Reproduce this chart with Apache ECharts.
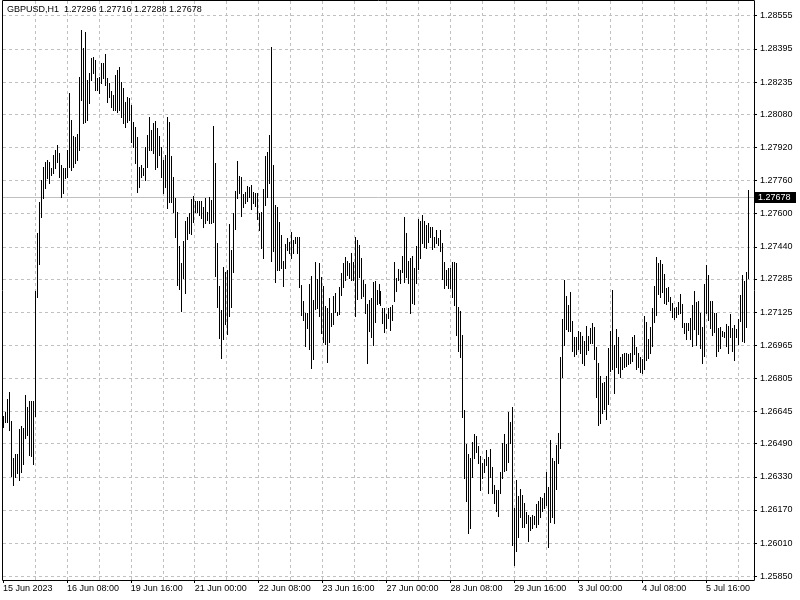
<!DOCTYPE html>
<html><head><meta charset="utf-8">
<script src="https://cdn.jsdelivr.net/npm/echarts@6/dist/echarts.min.js"></script>
<style>html,body{margin:0;padding:0;background:#fff}#c{width:800px;height:600px}</style>
</head><body><div id="c"></div>
<script>
const symbolName = 'GBPUSD,H1';
const lastBar = [1.27296, 1.27716, 1.27288, 1.27678]; // open, high, low, close

const highs = [
1.26624,1.26643,1.26706,1.26739,1.26599,1.26421,1.26440,1.26440,1.26561,1.26575,
1.26566,1.26725,1.26667,1.26696,1.26696,1.26696,1.27227,1.27507,1.27656,1.27762,
1.27825,1.27849,1.27859,1.27849,1.27820,1.27883,1.27907,1.27931,1.27893,1.27835,
1.27820,1.27820,1.27907,1.28182,1.28052,1.27975,1.27970,1.27984,1.28259,1.28486,
1.28399,1.28476,1.28245,1.28279,1.28351,1.28356,1.28341,1.28254,1.28259,1.28327,
1.28327,1.28370,1.28254,1.28230,1.28192,1.28172,1.28269,1.28293,1.28307,1.28235,
1.28206,1.28139,1.28163,1.28158,1.28124,1.28042,1.28018,1.27970,1.27825,1.27835,
1.27820,1.27921,1.27979,1.28066,1.28003,1.28037,1.28047,1.28013,1.27975,1.27921,
1.27859,1.27883,1.28066,1.28042,1.27878,1.27777,1.27675,1.27608,1.27444,1.27362,
1.27468,1.27564,1.27584,1.27603,1.27671,1.27685,1.27661,1.27661,1.27661,1.27661,
1.27632,1.27675,1.27608,1.27680,1.27666,1.28023,1.27844,1.27458,1.27251,1.27135,
1.27342,1.27318,1.27328,1.27550,1.27424,1.27603,1.27709,1.27854,1.27782,1.27777,
1.27695,1.27704,1.27733,1.27728,1.27738,1.27704,1.27700,1.27700,1.27603,1.27608,
1.27719,1.27878,1.27897,1.27979,1.28404,1.27835,1.27642,1.27632,1.27560,1.27497,
1.27371,1.27453,1.27482,1.27463,1.27511,1.27473,1.27487,1.27487,1.27487,1.27256,
1.27178,1.27121,1.27121,1.27260,1.27299,1.27183,1.27367,1.27285,1.27362,1.27294,
1.27251,1.27154,1.27145,1.27193,1.27121,1.27203,1.27217,1.27125,1.27246,1.27314,
1.27362,1.27391,1.27371,1.27362,1.27410,1.27367,1.27487,1.27473,1.27449,1.27386,
1.27280,1.27260,1.27164,1.27183,1.27193,1.27270,1.27275,1.27231,1.27260,1.27227,
1.27145,1.27145,1.27116,1.27145,1.27149,1.27159,1.27367,1.27289,1.27333,1.27328,
1.27396,1.27584,1.27507,1.27371,1.27386,1.27396,1.27338,1.27444,1.27574,1.27564,
1.27593,1.27564,1.27545,1.27555,1.27535,1.27535,1.27487,1.27521,1.27482,1.27521,
1.27458,1.27367,1.27328,1.27338,1.27338,1.27367,1.27367,1.27362,1.27149,1.27130,
1.27014,1.26652,1.26488,1.26440,1.26421,1.26498,1.26537,1.26527,1.26479,1.26431,
1.26397,1.26416,1.26459,1.26426,1.26464,1.26377,1.26291,1.26266,1.26266,1.26353,
1.26493,1.26537,1.26488,1.26643,1.26594,1.26667,1.26180,1.26315,1.26238,1.26271,
1.26242,1.26204,1.26160,1.26146,1.26136,1.26146,1.26141,1.26199,1.26213,1.26233,
1.26228,1.26252,1.26353,1.26281,1.26508,1.26421,1.26406,1.26484,1.26542,1.26908,
1.27092,1.27280,1.27203,1.27159,1.27222,1.27082,1.27005,1.27005,1.27034,1.27029,
1.27010,1.26985,1.27058,1.27010,1.27048,1.27072,1.27053,1.26956,1.26879,1.26817,
1.26783,1.26788,1.26817,1.26952,1.27034,1.27231,1.26966,1.27043,1.27005,1.26908,
1.26923,1.26928,1.26928,1.26923,1.26928,1.27005,1.27014,1.26956,1.26928,1.26908,
1.26899,1.27106,1.27077,1.26995,1.27053,1.27145,1.27251,1.27391,1.27362,1.27376,
1.27357,1.27309,1.27241,1.27246,1.27198,1.27169,1.27145,1.27149,1.27174,1.27212,
1.27164,1.27072,1.27072,1.27072,1.27096,1.27159,1.27227,1.27174,1.27178,1.27121,
1.27053,1.27260,1.27352,1.27304,1.27178,1.27178,1.27121,1.27121,1.27048,1.27053,
1.27034,1.27029,1.27067,1.27058,1.27116,1.27048,1.27063,1.27043,1.27092,1.27207,
1.27304,1.27275,1.27318,1.27716
];

const lows = [
1.26570,1.26595,1.26594,1.26556,1.26334,1.26291,1.26329,1.26349,1.26315,1.26353,
1.26392,1.26517,1.26532,1.26435,1.26431,1.26392,1.26624,1.27198,1.27357,1.27584,
1.27675,1.27724,1.27772,1.27748,1.27786,1.27796,1.27820,1.27849,1.27777,1.27680,
1.27700,1.27772,1.27777,1.27825,1.27810,1.27825,1.27844,1.27859,1.27907,1.28148,
1.28037,1.28042,1.28052,1.28134,1.28245,1.28279,1.28196,1.28196,1.28182,1.28230,
1.28254,1.28221,1.28139,1.28163,1.28114,1.28100,1.28100,1.28090,1.28100,1.28066,
1.28037,1.28018,1.28042,1.28052,1.27946,1.27921,1.27844,1.27704,1.27728,1.27777,
1.27786,1.27762,1.27825,1.27907,1.27907,1.27893,1.27815,1.27825,1.27883,1.27777,
1.27700,1.27728,1.27627,1.27656,1.27656,1.27608,1.27487,1.27256,1.27236,1.27130,
1.27289,1.27217,1.27478,1.27507,1.27502,1.27560,1.27608,1.27608,1.27593,1.27579,
1.27535,1.27555,1.27569,1.27555,1.27555,1.27560,1.27299,1.27149,1.27000,1.26903,
1.26995,1.27067,1.27019,1.27106,1.27149,1.27318,1.27526,1.27675,1.27700,1.27589,
1.27632,1.27651,1.27661,1.27680,1.27622,1.27651,1.27637,1.27574,1.27521,1.27434,
1.27386,1.27642,1.27680,1.27748,1.27371,1.27420,1.27270,1.27328,1.27328,1.27338,
1.27251,1.27338,1.27424,1.27410,1.27386,1.27410,1.27458,1.27410,1.27246,1.27111,
1.27087,1.26961,1.27048,1.26947,1.26855,1.26899,1.27140,1.27145,1.27106,1.27024,
1.26981,1.26971,1.26884,1.26981,1.27058,1.27067,1.27125,1.27111,1.27116,1.27207,
1.27246,1.27280,1.27304,1.27289,1.27280,1.27280,1.27106,1.27188,1.27294,1.27193,
1.27203,1.27121,1.26879,1.27034,1.27005,1.26966,1.27077,1.27164,1.27169,1.27159,
1.27072,1.27029,1.27048,1.27096,1.27038,1.27087,1.27178,1.27227,1.27280,1.27265,
1.27318,1.27270,1.27294,1.27265,1.27121,1.27169,1.27164,1.27265,1.27333,1.27386,
1.27458,1.27439,1.27434,1.27463,1.27487,1.27429,1.27439,1.27458,1.27449,1.27420,
1.27285,1.27241,1.27256,1.27241,1.27241,1.27198,1.27159,1.27014,1.26937,1.26908,
1.26619,1.26324,1.26213,1.26059,1.26083,1.26329,1.26421,1.26450,1.26397,1.26266,
1.26324,1.26353,1.26387,1.26252,1.26329,1.26252,1.26204,1.26165,1.26141,1.26252,
1.26324,1.26358,1.26363,1.26402,1.26493,1.26001,1.25905,1.25972,1.26040,1.26136,
1.26088,1.26088,1.26107,1.26020,1.26073,1.26083,1.26102,1.26088,1.26102,1.26136,
1.26165,1.26180,1.26194,1.25991,1.26112,1.26136,1.26107,1.26271,1.26397,1.26469,
1.26812,1.26966,1.27043,1.27034,1.27034,1.26937,1.26913,1.26923,1.26947,1.26928,
1.26879,1.26870,1.26923,1.26942,1.26976,1.26976,1.26899,1.26715,1.26580,1.26590,
1.26638,1.26657,1.26609,1.26681,1.26841,1.26850,1.26735,1.26860,1.26831,1.26812,
1.26850,1.26860,1.26865,1.26874,1.26879,1.26889,1.26923,1.26850,1.26860,1.26836,
1.26831,1.26850,1.26894,1.26903,1.26928,1.26961,1.27077,1.27111,1.27212,1.27198,
1.27222,1.27169,1.27164,1.27178,1.27135,1.27101,1.27092,1.27101,1.27116,1.27121,
1.27053,1.27024,1.26995,1.27038,1.26995,1.26961,1.27043,1.26966,1.27019,1.26952,
1.26879,1.26913,1.27121,1.27087,1.27048,1.27014,1.27029,1.26913,1.26937,1.26952,
1.27010,1.27005,1.26961,1.26928,1.27005,1.26937,1.26894,1.27005,1.26971,1.27082,
1.26985,1.26981,1.27053,1.27288
];

const yTickLabels = ['1.28555','1.28395','1.28235','1.28080','1.27920','1.27760','1.27600','1.27440','1.27285',
  '1.27125','1.26965','1.26805','1.26645','1.26490','1.26330','1.26170','1.26010','1.25850'];
const xTickLabels = ['15 Jun 2023','16 Jun 08:00','19 Jun 16:00','21 Jun 00:00','22 Jun 08:00','23 Jun 16:00',
  '27 Jun 00:00','28 Jun 08:00','29 Jun 16:00','3 Jul 00:00','4 Jul 08:00','5 Jul 16:00'];

// hourly bar times (weekdays only), plus empty slots of chart shift on the right
const categories = [];
(function(){
  let t = Date.UTC(2023, 5, 15, 0);
  while (categories.length < 377) {
    const d = new Date(t);
    const wd = d.getUTCDay();
    if (wd !== 0 && wd !== 6) {
      categories.push(d.toISOString().slice(0, 16).replace('T', ' '));
    }
    t += 3600000;
  }
})();

const FONT = '"Liberation Sans", Arial, sans-serif';
const yTickValues = yTickLabels.map(Number);
const Y_MAX = 1.28626, Y_MIN = 1.25832;
const GRID_COLOR = '#c0c0c0';

const chart = echarts.init(document.getElementById('c'), null, {renderer: 'canvas'});
chart.setOption({
  animation: false,
  backgroundColor: '#ffffff',
  textStyle: {fontFamily: FONT},
  grid: {left: 3, right: 46, top: 1, bottom: 20, outerBoundsMode: 'none', containLabel: false},
  xAxis: {
    type: 'category',
    data: categories,
    boundaryGap: false,
    axisLine: {show: true, lineStyle: {color: '#000', width: 1}},
    axisTick: {show: true, interval: (i) => i % 32 === 0, length: 3, lineStyle: {color: '#000'}},
    axisLabel: {
      show: true,
      interval: (i) => i % 32 === 0,
      formatter: (v, i) => xTickLabels[Math.round(i / 32)] || '',
      align: 'left', color: '#000', fontSize: 9, fontFamily: FONT, margin: 4,
      hideOverlap: false
    },
    splitLine: {show: true, interval: (i) => i % 16 === 0 && i > 0,
      lineStyle: {color: GRID_COLOR, type: [3, 3], width: 1}}
  },
  yAxis: {
    type: 'value',
    position: 'right',
    min: Y_MIN, max: Y_MAX,
    axisLine: {show: true, onZero: false, lineStyle: {color: '#000', width: 1}},
    axisTick: {show: true, length: 3, customValues: yTickValues, lineStyle: {color: '#000'}},
    axisLabel: {show: true, customValues: yTickValues, formatter: (v) => Number(v).toFixed(5),
      color: '#000', fontSize: 9, fontFamily: FONT, margin: 6, hideOverlap: false},
    splitLine: {show: true, lineStyle: {color: GRID_COLOR, type: [3, 3], width: 1}}
  },
  graphic: [
    {type: 'line', shape: {x1: 2.5, y1: 0.5, x2: 2.5, y2: 580.5}, style: {stroke: '#000', lineWidth: 1}, z: 100},
    {type: 'line', shape: {x1: 2.5, y1: 0.5, x2: 754.5, y2: 0.5}, style: {stroke: '#000', lineWidth: 1}, z: 100},
    {type: 'text', x: 7, y: 5, z: 100,
      style: {text: symbolName + '  ' + lastBar.map(v => v.toFixed(5)).join(' '),
        fill: '#000', font: '9px ' + FONT, textVerticalAlign: 'top'}}
  ],
  series: [{
    // current (close) price line with its label on the price scale
    type: 'custom',
    z: 1,
    clip: false,
    silent: true,
    data: [[0, lastBar[3]]],
    encode: {x: 0, y: 1},
    renderItem: function (params, api) {
      const cs = params.coordSys;
      const p = api.coord([0, api.value(1)]);
      const y = Math.round(p[1]) + 0.5;
      const xr = cs.x + cs.width;
      return {
        type: 'group',
        children: [
          {type: 'line', shape: {x1: cs.x, y1: y, x2: xr, y2: y}, style: {stroke: GRID_COLOR, lineWidth: 1}},
          {type: 'rect', shape: {x: xr + 1, y: y - 5.5, width: 41, height: 11}, style: {fill: '#000'}},
          {type: 'text', x: xr + 4, y: y, style: {text: api.value(1).toFixed(5), fill: '#fff',
            font: '9px ' + FONT, textVerticalAlign: 'middle', textAlign: 'left'}}
        ]
      };
    }
  }, {
    type: 'custom',
    z: 2,
    data: highs.map((h, i) => [i, lows[i], h]),
    encode: {x: 0, y: [1, 2]},
    renderItem: function (params, api) {
      const i = api.value(0);
      const top = api.coord([i, api.value(2)]);
      const bot = api.coord([i, api.value(1)]);
      const x = Math.round(top[0]) + 0.5;
      return {
        type: 'line',
        shape: {x1: x, y1: Math.round(top[1]), x2: x, y2: Math.round(bot[1]) + 1},
        style: {stroke: '#000', lineWidth: 1}
      };
    }
  }]
});
</script>
</body></html>
